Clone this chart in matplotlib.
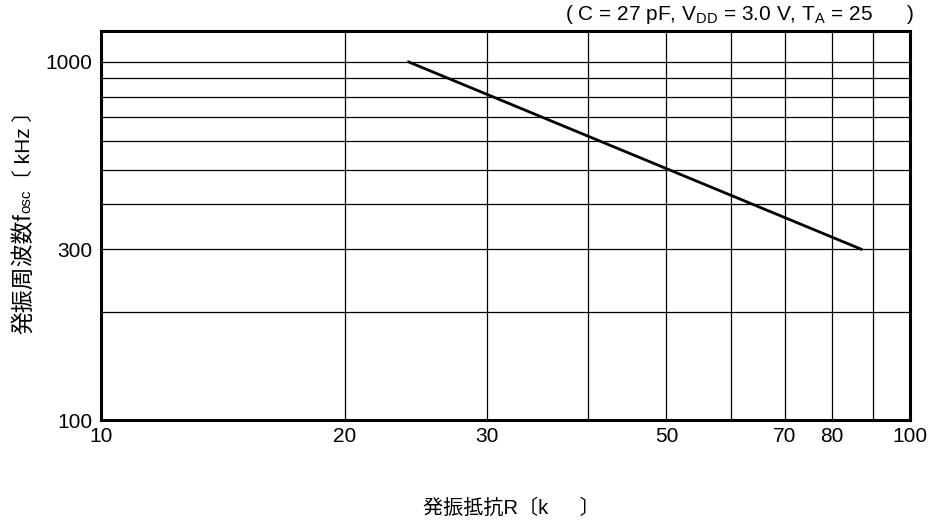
import matplotlib
matplotlib.use("Agg")
import matplotlib.pyplot as plt
from matplotlib.ticker import FixedLocator, NullFormatter

FONTS = ["Liberation Sans", "Noto Sans CJK JP", "DejaVu Sans"]
plt.rcParams["font.family"] = FONTS

# ── данные ─────────────────────────────────────────────────────────────
r_kohm = [24, 87]          # сопротивление, кОм
f_khz = [1000, 300]        # частота, кГц

x_grid = [20, 30, 40, 50, 60, 70, 80, 90]
y_grid = [200, 300, 400, 500, 600, 700, 800, 900, 1000]
x_ticks = [10, 20, 30, 50, 70, 80, 100]
y_ticks = [100, 300, 1000]

fig = plt.figure(figsize=(9.32, 5.22), dpi=100)
ax = fig.add_axes([0.1084, 0.1954, 0.8680, 0.7452])
ax.set_xscale("log")
ax.set_yscale("log")
ax.set_xlim(10, 100)
ax.set_ylim(100, 1220)

for x in x_grid:
    ax.axvline(x, color="black", lw=0.9, zorder=1)
for y in y_grid:
    ax.axhline(y, color="black", lw=0.9, zorder=1)

ax.plot(r_kohm, f_khz, color="black", lw=2, zorder=3)

ax.xaxis.set_major_locator(FixedLocator(x_ticks))
ax.xaxis.set_minor_locator(FixedLocator([]))
ax.xaxis.set_minor_formatter(NullFormatter())
ax.set_xticklabels([str(v) for v in x_ticks], fontsize=15)
ax.yaxis.set_major_locator(FixedLocator(y_ticks))
ax.yaxis.set_minor_locator(FixedLocator([]))
ax.yaxis.set_minor_formatter(NullFormatter())
ax.set_yticklabels([str(v) for v in y_ticks], fontsize=15)
ax.tick_params(axis="both", length=0)
ax.tick_params(axis="x", pad=5)
ax.tick_params(axis="y", pad=6)

for s in ax.spines.values():
    s.set_linewidth(2.2)
    s.set_zorder(4)

ax.text(1.005, 1.012,
        r"( C = 27 pF, V$_{\mathregular{DD}}$ = 3.0 V, T$_{\mathregular{A}}$ = 25      )",
        transform=ax.transAxes, ha="right", va="bottom", fontsize=15)

fig.text(423 / 932, 0.027, "発振抵抗R〔k　  〕", ha="left", va="center", fontsize=14.5)

# подпись оси Y собираем из кусков: CJK + мелкий индекс "osc"
fig.canvas.draw()
renderer = fig.canvas.get_renderer()
y_px = 522 - 334
x_px = 24
pieces = [("発振周波数f", 16.5, 0), ("osc", 11, 2), ("〔 kHz 〕", 15, 0)]
for txt, size, dx in pieces:
    t = fig.text((x_px + dx) / 932, y_px / 522, txt, rotation=90,
                 ha="center", va="bottom", fontsize=size)
    bb = t.get_window_extent(renderer)
    y_px = bb.y1

fig.savefig("out.png", dpi=100)
